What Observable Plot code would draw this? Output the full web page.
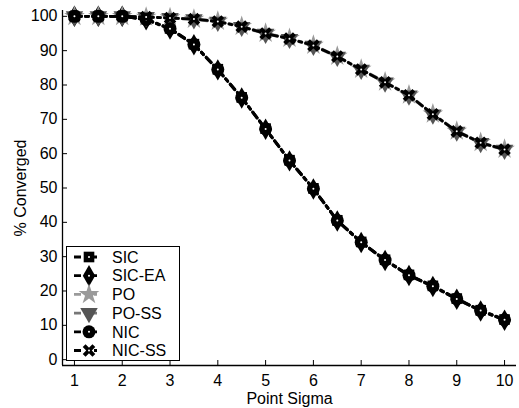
<!DOCTYPE html>
<html><head>
<meta charset="utf-8">
<script src="https://cdn.jsdelivr.net/npm/d3@7"></script>
<script src="https://cdn.jsdelivr.net/npm/@observablehq/plot@0.6"></script>
<style>
body{margin:0;background:#fff;font-family:"Liberation Sans",Arial,sans-serif}
#wrap{position:relative;width:519px;height:408px}
#wrap > svg text{font-size:16px}
#legend{position:absolute;left:66px;top:246px;width:114px;height:115px;border:1px solid #000;background:#fff;box-sizing:border-box}
</style></head><body>
<div id="wrap"></div>
<script>
// ---- data ----
const sigma = [1,1.5,2,2.5,3,3.5,4,4.5,5,5.5,6,6.5,7,7.5,8,8.5,9,9.5,10];
const seriesNames = ["SIC","SIC-EA","PO","PO-SS","NIC","NIC-SS"];
const sic   = [100,100,100,99.2,96.5,91.9,84.6,76.4,67.3,58.1,49.9,40.6,34.3,29.1,24.7,21.5,17.8,14.4,11.7];
const sicEA = [100,100,100,99.0,96.3,91.7,84.4,76.2,67.1,57.9,49.7,40.4,34.1,28.9,24.5,21.3,17.6,14.2,11.5];
const po    = [100,100,100,99.8,99.6,99.2,98.6,97.1,95.1,93.6,91.6,88.4,84.6,80.9,77.1,71.6,66.6,63.3,61.3];
const poSS  = [100,100,100,99.8,99.5,99.1,98.4,96.9,94.9,93.4,91.4,88.2,84.4,80.7,76.9,71.4,66.4,63.1,61.1];
const nic   = [100,100,100,99.1,96.4,91.8,84.5,76.3,67.2,58.0,49.8,40.5,34.2,29.0,24.6,21.4,17.7,14.3,11.6];
const nicSS = [100,100,100,99.8,99.5,99.2,98.5,97.0,95.0,93.5,91.5,88.3,84.5,80.8,77.0,71.5,66.5,63.2,61.2];
const xTicks = [1,2,3,4,5,6,7,8,9,10];
const yTicks = [0,10,20,30,40,50,60,70,80,90,100];

const seriesValues = [sic, sicEA, po, poSS, nic, nicSS];
const styles = {
  "SIC":    {symbol:"square",   fill:"#000", stroke:"#000", rotate:0, r:6, center:true},
  "SIC-EA": {symbol:"diamond",  fill:"#000", stroke:"#000", rotate:0, r:6.5, center:true},
  "PO":     {symbol:"star",     fill:"#9a9a9a", stroke:"#9a9a9a", rotate:0, r:6.5, center:false},
  "PO-SS":  {symbol:"triangle", fill:"#555", stroke:"#777", rotate:180, r:6.5, center:false},
  "NIC":    {symbol:"circle",   fill:"#000", stroke:"#000", rotate:0, r:6.5, center:true},
  "NIC-SS": {symbol:"times",    fill:"#000", stroke:"#000", rotate:0, r:4.5, center:true}
};
const dash = "7,4,3,4";

const marks = [];
seriesNames.forEach((name, i) => {
  const rows = sigma.map((x, j) => ({series:name, x, y:seriesValues[i][j]}));
  const s = styles[name];
  const isX = s.symbol === "times";
  marks.push(Plot.line(rows, {x:"x", y:"y", stroke:s.stroke, strokeWidth:2.8, strokeDasharray:dash}));
  marks.push(Plot.dot(rows, {x:"x", y:"y", symbol:()=>s.symbol, fill:isX?"none":s.fill, stroke:isX?s.stroke:"none", strokeWidth:isX?4:0, r:s.r, rotate:s.rotate}));
  if (s.center) marks.push(Plot.dot(rows, {x:"x", y:"y", r:1, fill:"#fff"}));
});

const chart = Plot.plot({
  width:519, height:408,
  marginLeft:62, marginRight:3, marginTop:10, marginBottom:43,
  style:{fontFamily:'"Liberation Sans",Arial,sans-serif', fontSize:"16px", color:"#000", background:"#fff"},
  x:{domain:[0.75,10.25]},
  y:{domain:[-1.7,101.7]},
  symbol:{type:"identity"},
  marks:[
    ...marks,
    Plot.ruleX([0.75], {stroke:"#000", strokeWidth:1.3}),
    Plot.ruleY([-1.7], {stroke:"#000", strokeWidth:1.3}),
    Plot.axisX({ticks:xTicks, tickSize:-5, tickPadding:14, label:"Point Sigma", labelAnchor:"center", labelArrow:"none", labelOffset:38, tickFormat:d=>String(d)}),
    Plot.axisY({ticks:yTicks, tickSize:-5, tickPadding:10, label:"% Converged", labelAnchor:"center", labelArrow:"none", labelOffset:48, tickFormat:d=>String(d)})
  ]
});
const wrap = document.getElementById("wrap");
wrap.appendChild(chart);

// ---- legend (inside axes, bottom-left) ----
const leg = document.createElement("div");
leg.id = "legend";
wrap.appendChild(leg);
const lsvg = d3.select(leg).append("svg").attr("width",112).attr("height",113).style("display","block");
const symMap = {square:d3.symbolSquare, diamond:d3.symbolDiamond, star:d3.symbolStar, triangle:d3.symbolTriangle, circle:d3.symbolCircle, times:d3.symbolTimes};
seriesNames.forEach((name, i) => {
  const s = styles[name];
  const isX = s.symbol === "times";
  const cy = 10 + i*18.7;
  const g = lsvg.append("g");
  g.append("line").attr("x1",7).attr("x2",36).attr("y1",cy).attr("y2",cy)
    .attr("stroke",s.stroke).attr("stroke-width",2.8).attr("stroke-dasharray","7,13,3,10");
  g.append("path").attr("d", d3.symbol(symMap[s.symbol], s.r*s.r*Math.PI)())
    .attr("transform",`translate(22,${cy}) rotate(${s.rotate})`)
    .attr("fill", isX?"none":s.fill)
    .attr("stroke", isX?s.stroke:"none")
    .attr("stroke-width", isX?4:0);
  if (s.center) g.append("circle").attr("cx",22).attr("cy",cy).attr("r",1).attr("fill","#fff");
  g.append("text").attr("x",45).attr("y",cy).attr("dy","0.36em")
    .attr("font-size",16).attr("fill","#000").text(name);
});
</script>
</body></html>
